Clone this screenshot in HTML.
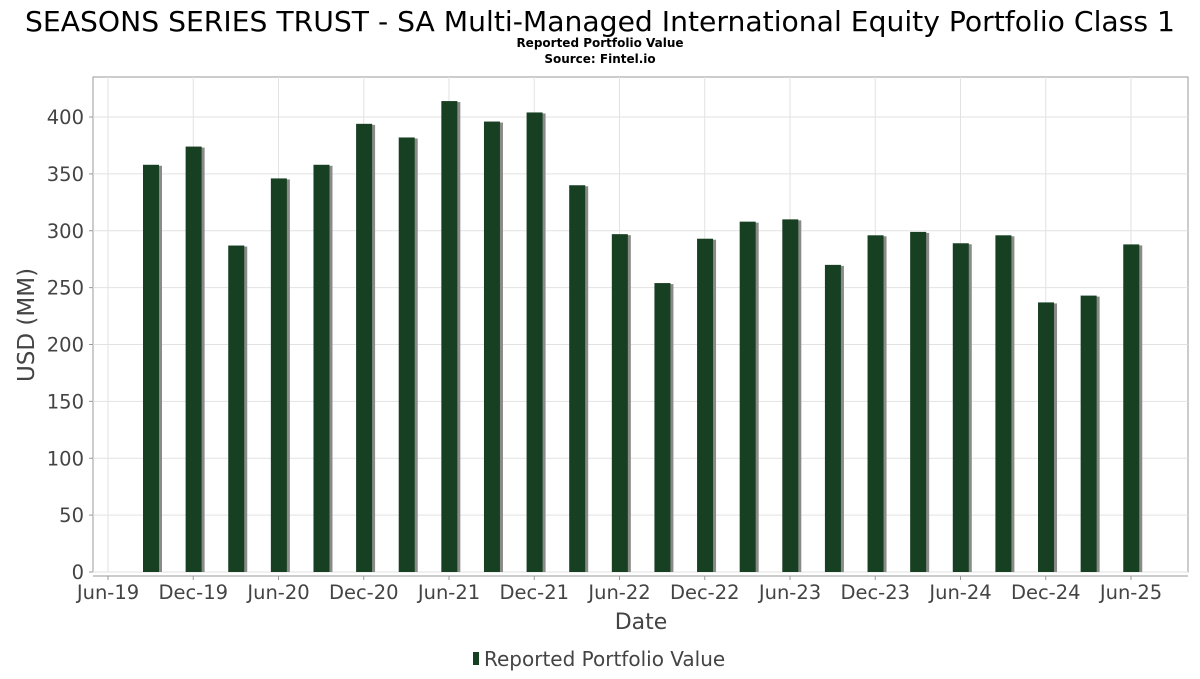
<!DOCTYPE html>
<html><head><meta charset="utf-8"><style>
body{margin:0;background:#fff;font-family:"DejaVu Sans","Liberation Sans",sans-serif}
</style></head><body>
<svg id="c" width="1200" height="675" xmlns="http://www.w3.org/2000/svg" font-family="DejaVu Sans, Liberation Sans, sans-serif">
<text x="600" y="31" text-anchor="middle" font-size="28" textLength="1150" lengthAdjust="spacingAndGlyphs" fill="#000">SEASONS SERIES TRUST - SA Multi-Managed International Equity Portfolio Class 1</text>
<text x="600" y="47" text-anchor="middle" font-size="12" font-weight="bold" fill="#000">Reported Portfolio Value</text>
<text x="600" y="63" text-anchor="middle" font-size="12" font-weight="bold" fill="#000">Source: Fintel.io</text>
<g id="grid"></g><g id="bars"></g><g id="axes"></g>
<text x="641" y="629" text-anchor="middle" font-size="22" fill="#444">Date</text>
<text transform="translate(34,325) rotate(-90)" text-anchor="middle" font-size="23" fill="#444">USD (MM)</text>
<g>
<rect x="473" y="652" width="6" height="13" fill="#173f22"/>
<text x="484" y="666" font-size="20" fill="#444">Reported Portfolio Value</text>
</g>
</svg>
<script>
const values=[358,374,287,346,358,394,382,414,396,404,340,297,254,293,308,310,270,296,299,289,296,237,243,288];
const yTicks=[0,50,100,150,200,250,300,350,400];
const xTickLabels=["Jun-19","Dec-19","Jun-20","Dec-20","Jun-21","Dec-21","Jun-22","Dec-22","Jun-23","Dec-23","Jun-24","Dec-24","Jun-25"];
const NS="http://www.w3.org/2000/svg";
const L=93,R=1188,T=77,B=572;
const y=v=>B-v*(455/400);
const xTick=i=>108+i*85.25;
const xBar=i=>151+i*42.62;
function el(t,a,p){const e=document.createElementNS(NS,t);for(const k in a)e.setAttribute(k,a[k]);p.appendChild(e);return e;}
const g=document.getElementById('grid'),bg=document.getElementById('bars'),ax=document.getElementById('axes');
el('rect',{x:L,y:T,width:R-L,height:B-T,fill:'#fff',stroke:'#999'},g);
yTicks.forEach(v=>{
 const l=el('line',{x1:L,x2:R,y1:y(v),y2:y(v),stroke:'#e2e2e2'},g);
 
 
 const t=el('text',{x:L-9,y:y(v)+7,'text-anchor':'end','font-size':19.5,fill:'#444'},ax);
 t.textContent=v;
 
 
 el('line',{x1:L-4,x2:L,y1:y(v),y2:y(v),stroke:'#999'},ax);
});
xTickLabels.forEach((s,i)=>{
 const l=el('line',{x1:xTick(i),x2:xTick(i),y1:T,y2:B,stroke:'#e2e2e2'},g);
 
 
 el('line',{x1:xTick(i),x2:xTick(i),y1:576,y2:580,stroke:'#999'},ax);
 const t=el('text',{x:xTick(i),y:599,'text-anchor':'middle','font-size':19.5,fill:'#444'},ax);
 t.textContent=s;
 
 
});
el('line',{x1:L,x2:R,y1:576,y2:576,stroke:'#999'},ax);
values.forEach((v,i)=>{
 const cx=xBar(i);
 const s=el('rect',{x:cx-5,y:y(v)+1,width:16,height:B-y(v)-1,fill:'#8a8a88'},bg);
 
 
 const r=el('rect',{x:cx-8,y:y(v),width:16,height:B-y(v),fill:'#173f22'},bg);
 
 
});
</script>
</body></html>
